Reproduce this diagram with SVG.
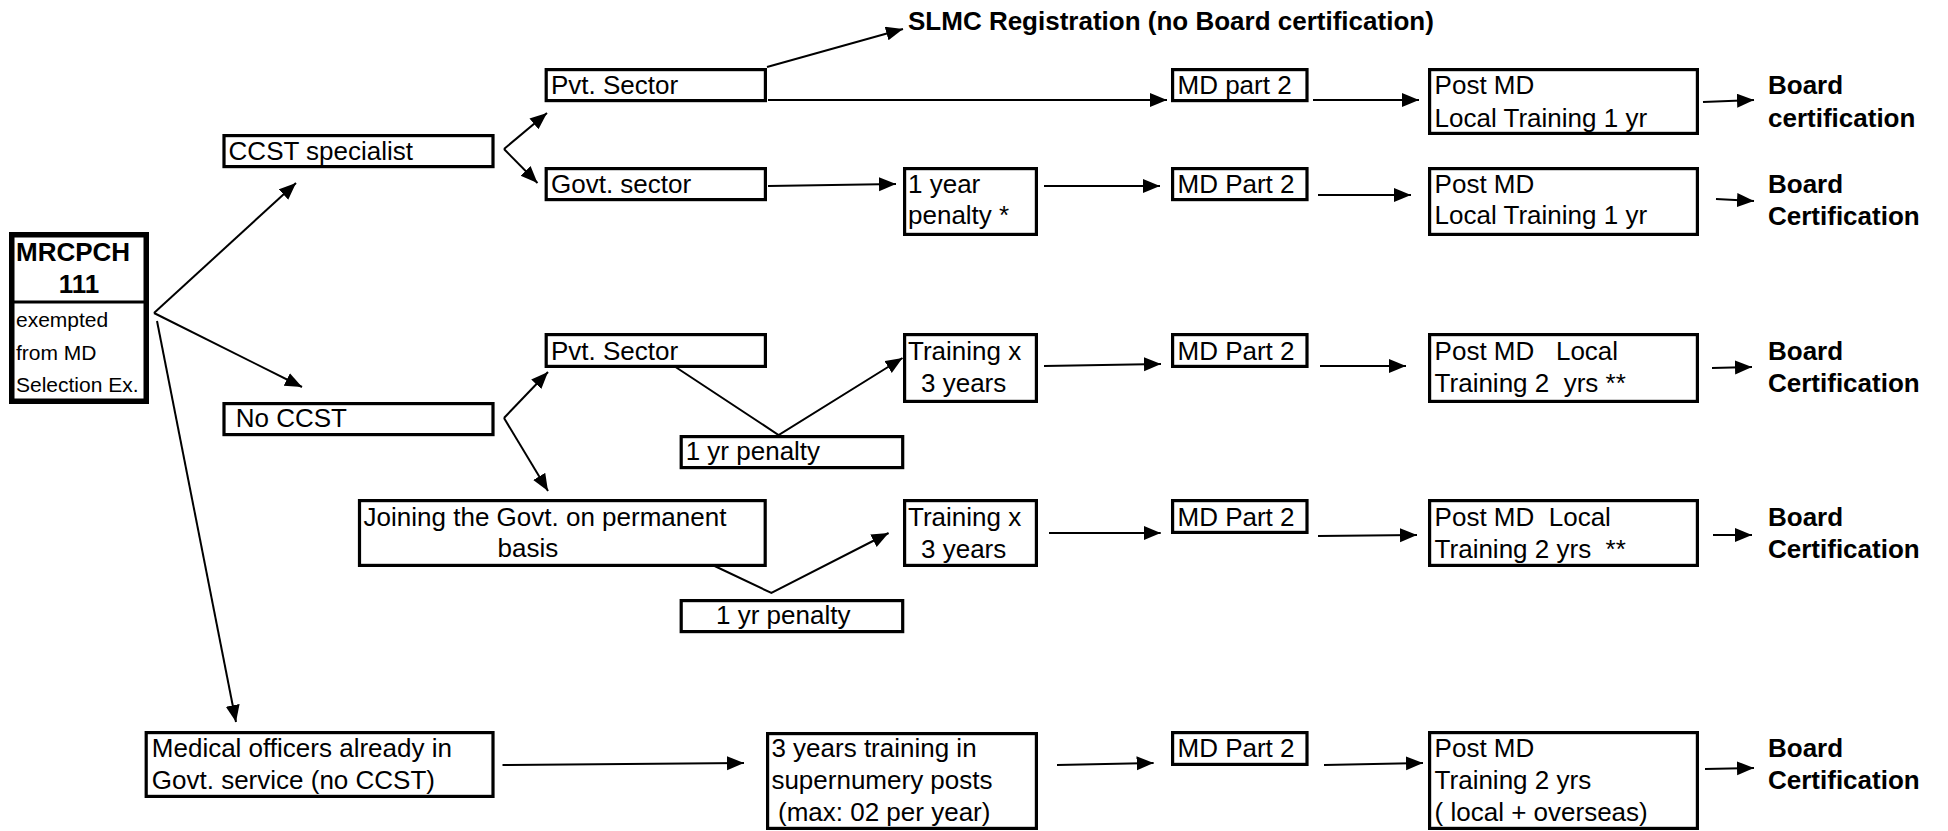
<svg xmlns="http://www.w3.org/2000/svg" width="1948" height="831" viewBox="0 0 1948 831" xml:space="preserve">
<defs>
<style>
.t{font-family:"Liberation Sans",Arial,sans-serif;font-size:26px;fill:#000;white-space:pre}
.b{font-weight:bold}
.s{font-size:21px}
.box{fill:#fff;stroke:#000;stroke-width:3.2}
.c{fill:none;stroke:#000;stroke-width:2}
</style>
<marker id="ah" markerUnits="userSpaceOnUse" markerWidth="18" markerHeight="16" refX="17" refY="7" orient="auto">
<path d="M0,0 L17,7 L0,14 z" fill="#000"/>
</marker>
</defs>
<rect width="1948" height="831" fill="#fff"/>

<g id="connectors" class="c">
<path class="c" d="M154,313 L296,183" marker-end="url(#ah)"/>
<path class="c" d="M154,313 L302,387" marker-end="url(#ah)"/>
<path class="c" d="M157,321 L236,722" marker-end="url(#ah)"/>
<path class="c" d="M504,149 L547,113" marker-end="url(#ah)"/>
<path class="c" d="M504,149 L537.5,183" marker-end="url(#ah)"/>
<path class="c" d="M767,67 L903,29" marker-end="url(#ah)"/>
<path class="c" d="M768,100 L1167,100" marker-end="url(#ah)"/>
<path class="c" d="M768,186 L896,184" marker-end="url(#ah)"/>
<path class="c" d="M1044,186 L1160,186" marker-end="url(#ah)"/>
<path class="c" d="M1313,100 L1419,100" marker-end="url(#ah)"/>
<path class="c" d="M1318,195 L1411,195" marker-end="url(#ah)"/>
<path class="c" d="M1703,102 L1754,100" marker-end="url(#ah)"/>
<path class="c" d="M1716,199 L1754,201" marker-end="url(#ah)"/>
<path class="c" d="M504,418 L548,372" marker-end="url(#ah)"/>
<path class="c" d="M504,418 L548,491" marker-end="url(#ah)"/>
<path class="c" d="M674,366 L778.6,435 L902.5,358" marker-end="url(#ah)"/>
<path class="c" d="M1044,366 L1161,364" marker-end="url(#ah)"/>
<path class="c" d="M1320,366 L1406,366" marker-end="url(#ah)"/>
<path class="c" d="M1712,368 L1752,367" marker-end="url(#ah)"/>
<path class="c" d="M712.5,565 L771.4,593 L888.6,533" marker-end="url(#ah)"/>
<path class="c" d="M1049,533 L1160.7,533" marker-end="url(#ah)"/>
<path class="c" d="M1318,536 L1417,535" marker-end="url(#ah)"/>
<path class="c" d="M1713,535 L1752,535" marker-end="url(#ah)"/>
<path class="c" d="M502.5,765 L744,763" marker-end="url(#ah)"/>
<path class="c" d="M1057,765 L1153.6,763" marker-end="url(#ah)"/>
<path class="c" d="M1324,765 L1423,763" marker-end="url(#ah)"/>
<path class="c" d="M1705,769 L1754,768" marker-end="url(#ah)"/>
</g>

<g id="mrcpch">
<rect x="11.75" y="234.75" width="134.5" height="166.5" fill="#fff" stroke="#000" stroke-width="5.5"/>
<line x1="13" y1="302" x2="144" y2="302" stroke="#000" stroke-width="3"/>
<text class="t b" x="16" y="261">MRCPCH</text>
<text class="t b" x="79" y="293" text-anchor="middle">111</text>
<text class="t s" x="16" y="327">exempted</text>
<text class="t s" x="16" y="360">from MD</text>
<text class="t s" x="16" y="392">Selection Ex.</text>
</g>

<g id="ccst">
<rect class="box" x="224" y="135.6" width="269" height="31"/>
<text class="t" x="228.6" y="160">CCST specialist</text>
</g>

<g id="noccst">
<rect class="box" x="224" y="403.6" width="269" height="31"/>
<text class="t" x="235.7" y="427">No CCST</text>
</g>

<g id="medofficers">
<rect class="box" x="146.2" y="732.6" width="346.8" height="63.8"/>
<text class="t" x="151.8" y="757">Medical officers already in</text>
<text class="t" x="151.8" y="789">Govt. service (no CCST)</text>
</g>

<g id="pvt1">
<rect class="box" x="546.2" y="69.6" width="219.2" height="31"/>
<text class="t" x="551" y="94">Pvt. Sector</text>
</g>

<g id="slmc">
<text class="t b" x="908" y="30">SLMC Registration (no Board certification)</text>
</g>

<g id="govt">
<rect class="box" x="546.2" y="168.6" width="219.2" height="31"/>
<text class="t" x="551" y="193">Govt. sector</text>
</g>

<g id="penalty1year">
<rect class="box" x="904.6" y="168.6" width="131.8" height="65.8"/>
<text class="t" x="908" y="193">1 year</text>
<text class="t" x="908" y="224">penalty *</text>
</g>

<g id="pvt2">
<rect class="box" x="546.2" y="334.6" width="219.2" height="31.8"/>
<text class="t" x="551" y="360">Pvt. Sector</text>
</g>

<g id="penalty2">
<rect class="box" x="681.2" y="436.6" width="221.5" height="31"/>
<text class="t" x="685.7" y="460">1 yr penalty</text>
</g>

<g id="joining">
<rect class="box" x="359.5" y="500.6" width="405.7" height="64.8"/>
<text class="t" x="363.6" y="526">Joining the Govt. on permanent</text>
<text class="t" x="497.5" y="557">basis</text>
</g>

<g id="penalty3">
<rect class="box" x="681.2" y="600.6" width="221.5" height="31"/>
<text class="t" x="716" y="624">1 yr penalty</text>
</g>

<g id="training1">
<rect class="box" x="904.6" y="334.6" width="131.8" height="66.8"/>
<text class="t" x="908" y="360">Training x</text>
<text class="t" x="921" y="392">3 years</text>
</g>

<g id="training2">
<rect class="box" x="904.6" y="500.6" width="131.8" height="64.8"/>
<text class="t" x="908" y="526">Training x</text>
<text class="t" x="921" y="558">3 years</text>
</g>

<g id="supernumery">
<rect class="box" x="767.6" y="733.6" width="268.8" height="94.8"/>
<text class="t" x="771.4" y="757">3 years training in</text>
<text class="t" x="771.4" y="789">supernumery posts</text>
<text class="t" x="778" y="821">(max: 02 per year)</text>
</g>

<g id="md1">
<rect class="box" x="1172.6" y="69.6" width="134.4" height="31"/>
<text class="t" x="1177.5" y="94">MD part 2</text>
</g>
<g id="md2">
<rect class="box" x="1172.6" y="168.6" width="134.4" height="31"/>
<text class="t" x="1177.5" y="193">MD Part 2</text>
</g>
<g id="md3">
<rect class="box" x="1172.6" y="334.6" width="134.4" height="31.8"/>
<text class="t" x="1177.5" y="360">MD Part 2</text>
</g>
<g id="md4">
<rect class="box" x="1172.6" y="500.6" width="134.4" height="31.8"/>
<text class="t" x="1177.5" y="526">MD Part 2</text>
</g>
<g id="md5">
<rect class="box" x="1172.6" y="732.6" width="134.4" height="31.8"/>
<text class="t" x="1177.5" y="757">MD Part 2</text>
</g>

<g id="post1">
<rect class="box" x="1429.6" y="69.6" width="267.8" height="63.8"/>
<text class="t" x="1434.6" y="94">Post MD</text>
<text class="t" x="1434.6" y="127">Local Training 1 yr</text>
</g>
<g id="post2">
<rect class="box" x="1429.6" y="168.6" width="267.8" height="65.8"/>
<text class="t" x="1434.6" y="193">Post MD</text>
<text class="t" x="1434.6" y="224">Local Training 1 yr</text>
</g>
<g id="post3">
<rect class="box" x="1429.6" y="334.6" width="267.8" height="66.8"/>
<text class="t" x="1434.6" y="360">Post MD   Local</text>
<text class="t" x="1434.6" y="392">Training 2  yrs **</text>
</g>
<g id="post4">
<rect class="box" x="1429.6" y="500.6" width="267.8" height="64.8"/>
<text class="t" x="1434.6" y="526">Post MD  Local</text>
<text class="t" x="1434.6" y="558">Training 2 yrs  **</text>
</g>
<g id="post5">
<rect class="box" x="1429.6" y="732.6" width="267.8" height="95.8"/>
<text class="t" x="1434.6" y="757">Post MD</text>
<text class="t" x="1434.6" y="789">Training 2 yrs</text>
<text class="t" x="1434.6" y="821">( local + overseas)</text>
</g>

<g id="board1">
<text class="t b" x="1768" y="94">Board</text>
<text class="t b" x="1768" y="127">certification</text>
</g>
<g id="board2">
<text class="t b" x="1768" y="193">Board</text>
<text class="t b" x="1768" y="225">Certification</text>
</g>
<g id="board3">
<text class="t b" x="1768" y="360">Board</text>
<text class="t b" x="1768" y="392">Certification</text>
</g>
<g id="board4">
<text class="t b" x="1768" y="526">Board</text>
<text class="t b" x="1768" y="558">Certification</text>
</g>
<g id="board5">
<text class="t b" x="1768" y="757">Board</text>
<text class="t b" x="1768" y="789">Certification</text>
</g>
</svg>
